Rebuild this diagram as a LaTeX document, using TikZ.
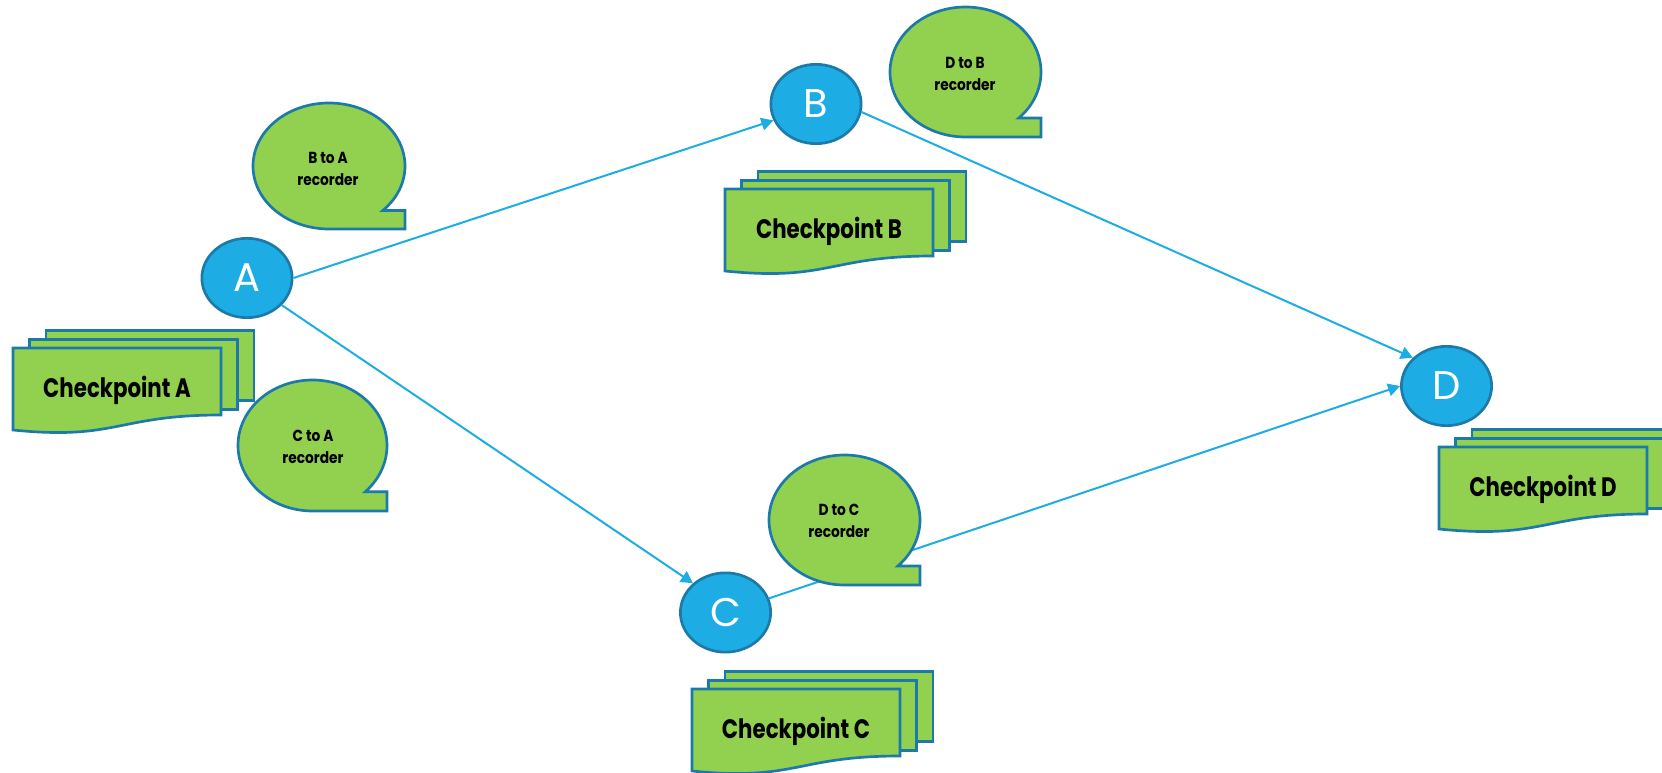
\documentclass[tikz,border=0pt]{standalone}
\usepackage{fontspec}
\usetikzlibrary{shapes.geometric,arrows.meta}
\newfontfamily\cpfont{Poppins}[FakeStretch=0.8]
\newfontfamily\bubfont{Poppins}[FakeStretch=0.86]
\newfontfamily\circfont{Poppins}
\definecolor{cblue}{RGB}{29,173,228}
\definecolor{bdr}{RGB}{28,122,170}
\definecolor{lgreen}{RGB}{146,208,80}
\tikzset{
  circ/.style={ellipse, draw=bdr, line width=2pt, fill=cblue, inner sep=0pt,
    minimum width=67.7pt, minimum height=59.5pt, text=white,
    font=\circfont\fontsize{30}{30}\selectfont},
  conn/.style={draw=cblue, line width=1.5pt, -{Triangle[length=9pt,width=9.5pt]}},
  bubble/.style={draw=bdr, line width=2pt, fill=lgreen, line join=miter},
  sheet/.style={draw=bdr, line width=2pt, fill=lgreen, line join=miter},
  bubtext/.style={align=center, inner sep=0pt,
    font=\bubfont\bfseries\fontsize{12}{16.5}\selectfont},
  cptext/.style={inner sep=0pt, font=\cpfont\bfseries\fontsize{20}{24}\selectfont},
  pics/multidoc/.style={code={
    \draw[sheet] (33,-17.5) rectangle ++(208,70);
    \draw[sheet] (16.5,-8.7) rectangle ++(208,70);
    \draw[sheet] (0,0) -- (208,0) -- (208,67) .. controls (104,67) and (104,92.5) .. (0,82) -- cycle;
    \node[cptext] (-label) at (104,42) {#1};
  }}
}
\newcommand\bubbleshape[4]{%
  \draw[bubble] ({#1+#3*cos(45)},{#2+#4*sin(45)})
    arc[start angle=-45,end angle=270,x radius=#3*0.75pt,y radius=#4*0.75pt]
    -- ++(#3,0) |- ({#1+#3*cos(45)},{#2+#4*sin(45)}) -- cycle;}
\begin{document}
\begin{tikzpicture}[x=0.75pt,y=-0.75pt]
\useasboundingbox (0,0) rectangle (1662,773);
% nodes
\node[circ] (A) at (247,278) {A};
\node[circ] (B) at (816,104) {B};
\node[circ] (C) at (725.5,612.5) {C};
\node[circ] (D) at (1446.5,386) {D};
% connectors
\draw[conn] (A.east) -- (B.201);
\draw[conn] (A.322) -- (C.138);
\draw[conn] (B.350) -- (D.140);
\draw[conn] (C.18) -- (D.west);
% callouts
\bubbleshape{329}{166}{76}{63}
\node[bubtext] (BA) at (328,169) {B to A\\recorder};
\bubbleshape{312.5}{445.5}{74.5}{65.5}
\node[bubtext] (CA) at (313,447) {C to A\\recorder};
\bubbleshape{965.5}{72}{75.5}{65}
\node[bubtext] (DB) at (965,74) {D to B\\recorder};
\bubbleshape{844.5}{520}{75.5}{65}
\node[bubtext] (DC) at (839,521) {D to C\\recorder};
% checkpoints
\pic (cpA) at (13,348) {multidoc={Checkpoint A}};
\pic (cpB) at (725,189) {multidoc={Checkpoint B}};
\pic (cpC) at (692,689) {multidoc={Checkpoint C}};
\pic (cpD) at (1439,447) {multidoc={Checkpoint D}};
\end{tikzpicture}
\end{document}
